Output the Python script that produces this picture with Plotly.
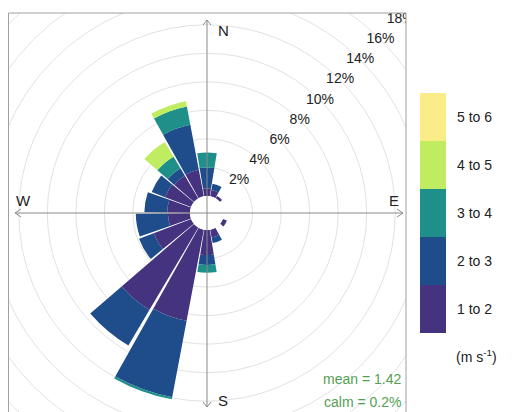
import plotly.graph_objects as go
import math

# ---------------- data ----------------
directions = [0, 20, 40, 60, 80, 100, 120, 140, 160, 180, 200, 220, 240, 260, 280, 300, 320, 340]
speed_bins = ["1 to 2", "2 to 3", "3 to 4", "4 to 5", "5 to 6"]
freq_1_2 = [0.55, 0.45, 0.20, 0, 0, 0, 0.30, 0, 0.55, 1.75, 6.50, 6.70, 2.80, 1.55, 1.60, 1.95, 1.85, 1.90]
freq_2_3 = [1.45, 0.45, 0, 0, 0, 0, 0, 0, 0.40, 0.70, 5.45, 2.90, 1.10, 2.25, 1.60, 1.00, 0.60, 3.20]
freq_3_4 = [1.05, 0, 0, 0, 0, 0, 0, 0, 0, 0.55, 0.15, 0, 0, 0, 0, 0, 0.95, 1.30]
freq_4_5 = [0, 0, 0, 0, 0, 0, 0, 0, 0, 0, 0, 0, 0, 0, 0, 0, 1.20, 0.38]
freq_5_6 = [0] * 18
ring_ticks = [2, 4, 6, 8, 10, 12, 14, 16, 18]
mean_speed = 1.42
calm_pct = 0.2
unit_label = "(m s<sup>-1</sup>)"
colors = ["#46337F", "#1F4D8C", "#1F8F89", "#BFEC60", "#FAEC86"]

# ---------------- geometry ----------------
# the page body has an 8px margin, so the figure is placed at (8, 8);
# reference pixel coordinates are converted with the OFF shift.
OFF = 8
W, H = 516 - OFF, 412 - OFF


def fx(px):
    return (px - OFF) / W


def fy(py):
    return 1 - (py - OFF) / H


CX, CY = 207, 213          # reference-pixel centre of the rose
R_PX = 199                  # outer radius of polar area in px
HOLE_PX = 17                # inner offset (hole) in px
SCALE = 14.27               # px per percent
rmax = (R_PX - HOLE_PX) / SCALE
BOX_L, BOX_R, BOX_T, BOX_B = 8, 406, 13, 412
FONT = "Liberation Sans, Arial, sans-serif"

fig = go.Figure()

series = [freq_1_2, freq_2_3, freq_3_4, freq_4_5, freq_5_6]
for name, vals, col in zip(speed_bins, series, colors):
    fig.add_trace(go.Barpolar(
        r=vals, theta=directions, name=name, width=18.6,
        marker=dict(color=col, line=dict(width=0)),
        showlegend=False, hoverinfo="skip", subplot="polar"))

# ring labels (clipped by the box, like the reference)
lab_x, lab_y, lab_t = [], [], []
for p in ring_ticks:
    r = HOLE_PX + SCALE * p
    lab_x.append(r * math.sin(math.pi / 4))
    lab_y.append(r * math.cos(math.pi / 4))
    lab_t.append(f"{p}%")
fig.add_trace(go.Scatter(x=lab_x, y=lab_y, text=lab_t, mode="text",
                         textfont=dict(family=FONT, size=14, color="#222222"),
                         cliponaxis=True, hoverinfo="skip", showlegend=False,
                         xaxis="x", yaxis="y"))

shapes = []
# rings
for p in ring_ticks:
    r = HOLE_PX + SCALE * p
    shapes.append(dict(type="circle", xref="x", yref="y", x0=-r, x1=r, y0=-r, y1=r,
                       line=dict(color="#e2e2e2", width=1), layer="below"))

# compass axis lines with open arrow heads
ax_col = "#8a8a8a"
top, bot, lft, rgt = CY - 20, CY - 407, 15 - CX, 403 - CX
shapes += [
    dict(type="line", xref="x", yref="y", x0=0, x1=0, y0=bot, y1=top, line=dict(color=ax_col, width=1)),
    dict(type="line", xref="x", yref="y", x0=lft, x1=rgt, y0=0, y1=0, line=dict(color=ax_col, width=1)),
    dict(type="path", xref="x", yref="y", path=f"M -4 {top-5} L 0 {top} L 4 {top-5}", line=dict(color=ax_col, width=1)),
    dict(type="path", xref="x", yref="y", path=f"M -4 {bot+5} L 0 {bot} L 4 {bot+5}", line=dict(color=ax_col, width=1)),
    dict(type="path", xref="x", yref="y", path=f"M {lft+6} 4 L {lft} 0 L {lft+6} -4", line=dict(color=ax_col, width=1)),
    dict(type="path", xref="x", yref="y", path=f"M {rgt-6} 4 L {rgt} 0 L {rgt-6} -4", line=dict(color=ax_col, width=1)),
]
# plot box
shapes.append(dict(type="rect", xref="paper", yref="paper",
                   x0=fx(BOX_L) + 0.5 / W, x1=fx(BOX_R), y0=-0.01, y1=fy(BOX_T),
                   line=dict(color="#a0a0a0", width=1)))

# legend (colour key)
KEY_L, KEY_R, KEY_T, KEY_B = 420, 446, 93, 333
seg = (KEY_B - KEY_T) / len(speed_bins)
annotations = []
for i, (name, col) in enumerate(zip(speed_bins, colors)):
    y1 = KEY_B - i * seg
    y0 = y1 - seg
    shapes.append(dict(type="rect", xref="paper", yref="paper",
                       x0=fx(KEY_L), x1=fx(KEY_R), y0=fy(y1), y1=fy(y0),
                       fillcolor=col, line=dict(width=0)))
    annotations.append(dict(x=fx(455), y=fy(y0 + seg / 2), xref="paper", yref="paper",
                            text=name, showarrow=False, xanchor="left", yanchor="middle",
                            font=dict(family=FONT, size=14, color="#222222")))
annotations.append(dict(x=fx(454), y=fy(356), xref="paper", yref="paper", text=unit_label,
                        showarrow=False, xanchor="left", yanchor="middle",
                        font=dict(family=FONT, size=14, color="#222222")))

# compass letters
for txt, px, py in [("N", 216, 30), ("S", 216, 400), ("W", 14, 200), ("E", 387, 200)]:
    annotations.append(dict(x=fx(px), y=fy(py), xref="paper", yref="paper", text=txt,
                            showarrow=False, xanchor="left", yanchor="middle",
                            font=dict(family=FONT, size=15, color="#222222")))

# mean / calm
green = "#559f55"
annotations.append(dict(x=fx(403), y=fy(379), xref="paper", yref="paper",
                        text=f"mean = {mean_speed}", showarrow=False, xanchor="right", yanchor="middle",
                        font=dict(family=FONT, size=14, color=green)))
annotations.append(dict(x=fx(403), y=fy(402), xref="paper", yref="paper",
                        text=f"calm = {calm_pct}%", showarrow=False, xanchor="right", yanchor="middle",
                        font=dict(family=FONT, size=14, color=green)))

fig.update_layout(
    width=W, height=H, margin=dict(l=0, r=0, t=0, b=0),
    paper_bgcolor="white", plot_bgcolor="white",
    showlegend=False,
    polar=dict(
        domain=dict(x=[fx(CX - R_PX), fx(CX + R_PX)], y=[fy(CY + R_PX), fy(CY - R_PX)]),
        bgcolor="rgba(0,0,0,0)", hole=HOLE_PX / R_PX, barmode="stack",
        radialaxis=dict(range=[0, rmax], showgrid=False, showline=False, showticklabels=False, ticks=""),
        angularaxis=dict(rotation=90, direction="clockwise", showgrid=False, showline=False,
                         showticklabels=False, ticks=""),
    ),
    xaxis=dict(domain=[fx(BOX_L), fx(BOX_R)], range=[BOX_L - CX, BOX_R - CX], showgrid=False,
               zeroline=False, showticklabels=False, ticks="", fixedrange=True),
    yaxis=dict(domain=[max(0, fy(BOX_B)), fy(BOX_T)], range=[CY - BOX_B, CY - BOX_T], showgrid=False,
               zeroline=False, showticklabels=False, ticks="", fixedrange=True),
    shapes=shapes, annotations=annotations,
)

fig.write_html("out.html")
